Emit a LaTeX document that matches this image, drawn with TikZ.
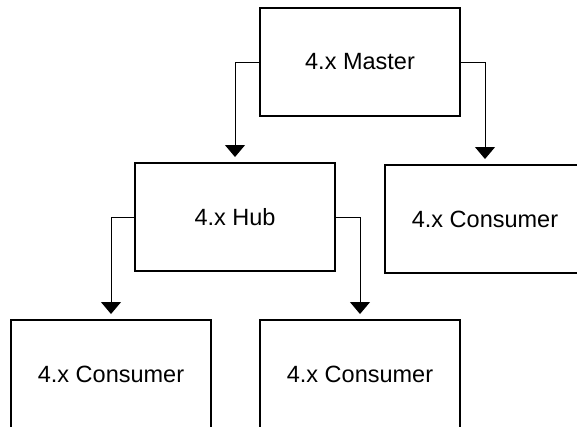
\documentclass[tikz,border=0pt]{standalone}
\usepackage{fontspec}
\setmainfont{Liberation Sans}
\usetikzlibrary{arrows.meta}
\begin{document}
\begin{tikzpicture}[x=1pt,y=-1pt,
  box/.style={draw, line width=2pt, minimum width=200pt, minimum height=108pt, inner sep=0pt,
    font=\fontsize{23.5}{28}\selectfont},
  conn/.style={line width=1pt, -{Triangle[width=20pt,length=12pt]}}]
\useasboundingbox (0,0) rectangle (577,426);
\clip (0,0) rectangle (577,426);
\node[box] (master) at (360,62) {4.x Master};
\node[box] (hub) at (235,217) {4.x Hub};
\node[box] (rcons) at (485,219) {4.x Consumer};
\node[box] (lcons) at (111,374) {4.x Consumer};
\node[box] (mcons) at (360,374) {4.x Consumer};
\draw[conn] (master.west) -| ([yshift=5pt]hub.north);
\draw[conn] (master.east) -| ([yshift=5pt]rcons.north);
\draw[conn] (hub.west) -| ([yshift=5pt]lcons.north);
\draw[conn] (hub.east) -| ([yshift=5pt]mcons.north);
\end{tikzpicture}
\end{document}
